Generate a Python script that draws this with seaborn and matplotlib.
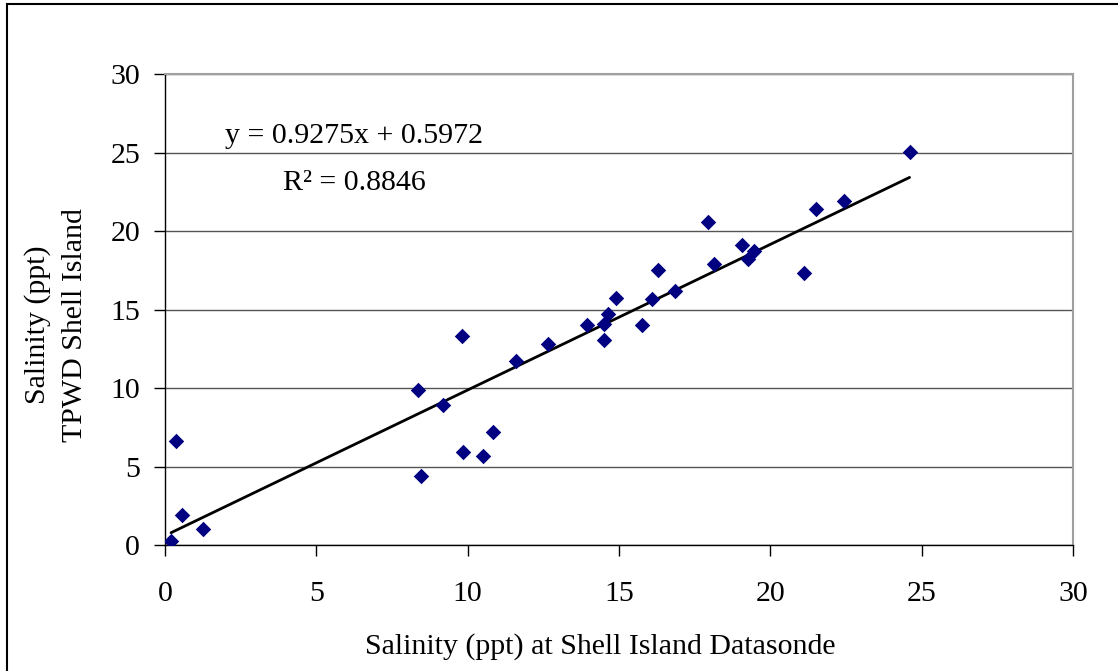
import numpy as np
import matplotlib
matplotlib.use("Agg")
import matplotlib.pyplot as plt
import seaborn as sns
from matplotlib.patches import Rectangle

# Data
datasonde = [0.2, 0.35, 0.55, 1.25, 8.35, 8.45, 9.2, 9.8, 9.85, 10.5, 10.85,
             11.6, 12.65, 13.95, 14.5, 14.5, 14.65, 14.9, 15.75, 16.1, 16.3,
             16.85, 17.95, 18.15, 19.05, 19.25, 19.45, 21.1, 21.5, 22.45, 24.6]
tpwd = [0.25, 6.6, 1.9, 1.0, 9.9, 4.4, 8.9, 13.3, 5.9, 5.7, 7.2,
        11.7, 12.8, 14.0, 14.1, 13.05, 14.7, 15.75, 14.0, 15.65, 17.5,
        16.15, 20.55, 17.9, 19.1, 18.2, 18.7, 17.3, 21.4, 21.9, 25.05]
slope = 0.9275
intercept = 0.5972
r_squared = 0.8846
xticks = [0, 5, 10, 15, 20, 25, 30]
yticks = [0, 5, 10, 15, 20, 25, 30]
xlabel = "Salinity (ppt) at Shell Island Datasonde"
ylabel = "Salinity (ppt)\nTPWD Shell Island"

sns.set_theme(style="white")
plt.rcParams["font.family"] = ["Liberation Serif", "DejaVu Serif"]
plt.rcParams["font.size"] = 21.5
for key in ["text.color", "axes.labelcolor", "xtick.color", "ytick.color"]:
    plt.rcParams[key] = "black"

FS = 21.5
W, H = 1118, 671
fig = plt.figure(figsize=(W / 100, H / 100), dpi=100)
ax = fig.add_axes([165 / W, 1 - 545 / H, (1073 - 165) / W, (545 - 74) / H])

sns.scatterplot(x=datasonde, y=tpwd, ax=ax, marker="D", color="#000080",
                edgecolor="#000080", linewidth=0, s=62, zorder=3)

xs = np.array([min(datasonde), max(datasonde)])
ax.plot(xs, slope * xs + intercept, color="black", lw=2.0, zorder=2)

ax.set_xlim(0, 30)
ax.set_ylim(0, 30)
ax.set_xticks(xticks)
ax.set_yticks(yticks)
ax.set_xticklabels([str(t) for t in xticks], fontsize=FS)
ax.set_yticklabels([str(t) for t in yticks], fontsize=FS)

ax.yaxis.grid(True, color="#555555", lw=1.0, zorder=0)
ax.xaxis.grid(False)
ax.set_axisbelow(True)

for side in ["left", "bottom"]:
    ax.spines[side].set_color("black")
    ax.spines[side].set_linewidth(1.0)
for side in ["top", "right"]:
    ax.spines[side].set_color("#a0a0a0")
    ax.spines[side].set_linewidth(1.5)

ax.tick_params(axis="both", which="major", direction="out", length=8,
               width=1.0, color="black", labelcolor="black",
               bottom=True, left=True)
ax.tick_params(axis="x", pad=18)
ax.tick_params(axis="y", pad=10)

ax.set_xlabel(xlabel, fontsize=FS, labelpad=19)
ax.xaxis.label.set_x((600.5 - 165) / 908)
ax.set_ylabel(ylabel, fontsize=FS, linespacing=1.55)
ax.yaxis.label.set_va("center")
ax.yaxis.set_label_coords((56 - 165) / 908, (545 - 325) / 471)

ax.text((225 - 165) / 908, (545 - 143) / 471,
        f"y = {slope}x + {intercept}", transform=ax.transAxes,
        fontsize=FS, ha="left", va="baseline")
ax.text((283 - 165) / 908, (545 - 190) / 471,
        f"R\u00b2 = {r_squared}", transform=ax.transAxes,
        fontsize=FS, ha="left", va="baseline")

# Outer chart border
fig.patches.append(Rectangle((7 / W, -0.1), 1.2, 1.1 - 4 / H,
                             transform=fig.transFigure, fill=False,
                             edgecolor="black", lw=1.5))

fig.savefig("out.png", dpi=100)
